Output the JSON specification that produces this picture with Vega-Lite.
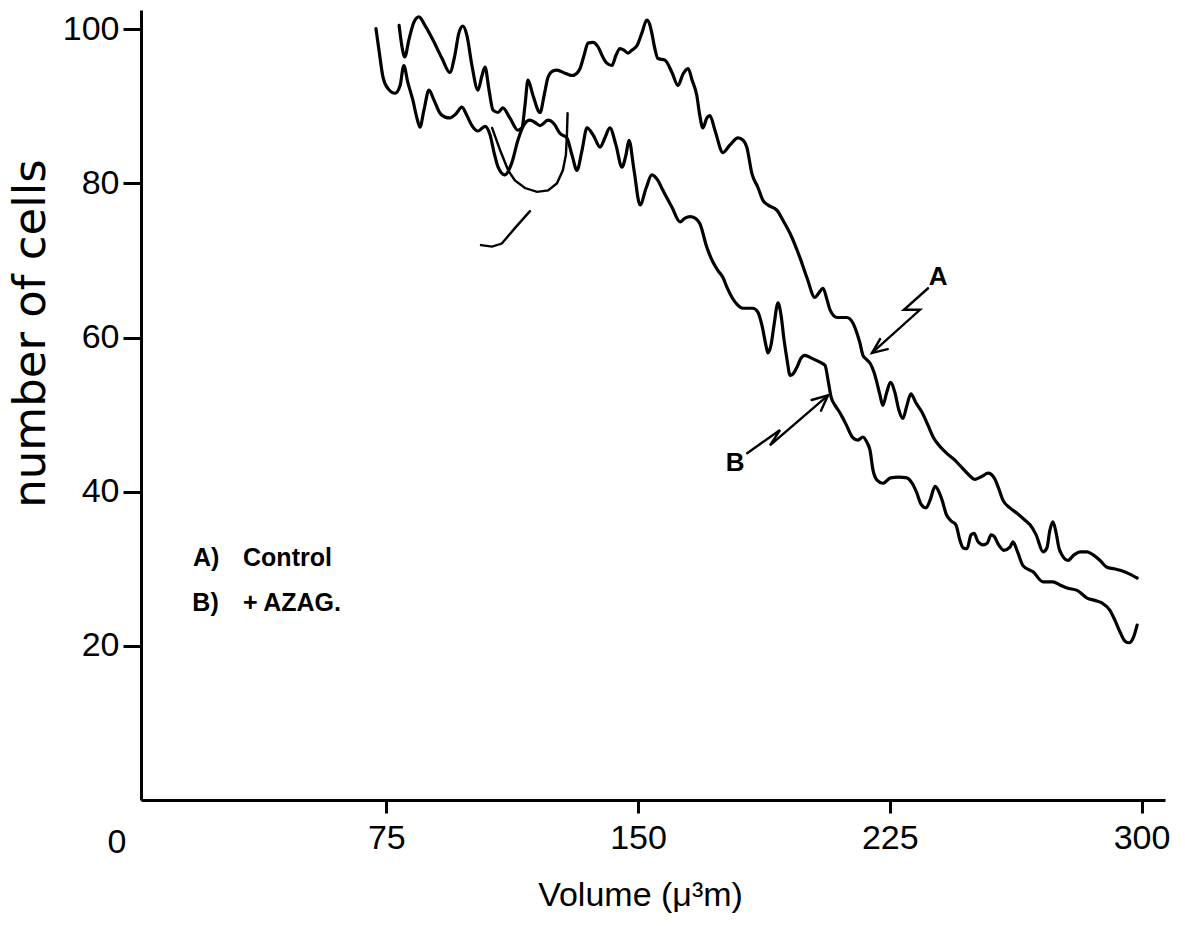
{
  "$schema": "https://vega.github.io/schema/vega-lite/v6.json",
  "autosize": {"type": "none"},
  "padding": {"left": 141, "top": 10, "right": 20, "bottom": 126},
  "width": 1024,
  "height": 790,
  "background": "white",
  "config": {
    "view": {"stroke": null},
    "font": "Liberation Sans",
    "axis": {
      "grid": false,
      "domainColor": "black",
      "domainWidth": 3,
      "tickColor": "black",
      "tickWidth": 3,
      "labelColor": "black",
      "titleColor": "black",
      "labelFont": "Liberation Sans",
      "titleFont": "Liberation Sans",
      "titleFontWeight": "normal"
    }
  },
  "datasets": {
    "curves": [
      {"s":"A","v":78.8,"n":100.5},{"s":"A","v":79.6,"n":97.9},{"s":"A","v":80.5,"n":96.4},{"s":"A","v":81.7,"n":98.6},{"s":"A","v":83.2,"n":100.9},{"s":"A","v":84.7,"n":101.6},{"s":"A","v":86.5,"n":100.5},{"s":"A","v":88.9,"n":98.6},{"s":"A","v":91.6,"n":96.2},{"s":"A","v":93.9,"n":94.4},{"s":"A","v":95.4,"n":96.6},{"s":"A","v":96.6,"n":99.5},{"s":"A","v":97.8,"n":100.4},{"s":"A","v":99.0,"n":99.2},{"s":"A","v":100.5,"n":95.3},{"s":"A","v":102.3,"n":92.1},{"s":"A","v":103.5,"n":94.0},{"s":"A","v":104.4,"n":95.1},{"s":"A","v":105.6,"n":92.1},{"s":"A","v":106.8,"n":89.5},{"s":"A","v":108.3,"n":89.2},{"s":"A","v":109.7,"n":89.8},{"s":"A","v":111.8,"n":88.5},{"s":"A","v":114.2,"n":86.9},{"s":"A","v":115.4,"n":87.2},{"s":"A","v":116.3,"n":90.1},{"s":"A","v":117.2,"n":93.4},{"s":"A","v":118.7,"n":91.4},{"s":"A","v":120.8,"n":89.2},{"s":"A","v":122.0,"n":91.4},{"s":"A","v":123.2,"n":93.8},{"s":"A","v":124.6,"n":94.6},{"s":"A","v":125.8,"n":94.7},{"s":"A","v":128.2,"n":94.3},{"s":"A","v":130.3,"n":94.0},{"s":"A","v":131.8,"n":94.3},{"s":"A","v":132.7,"n":94.9},{"s":"A","v":133.9,"n":96.6},{"s":"A","v":135.1,"n":98.2},{"s":"A","v":136.6,"n":98.3},{"s":"A","v":138.1,"n":97.7},{"s":"A","v":139.5,"n":96.4},{"s":"A","v":140.7,"n":95.6},{"s":"A","v":142.2,"n":95.3},{"s":"A","v":143.4,"n":96.6},{"s":"A","v":144.6,"n":97.5},{"s":"A","v":145.8,"n":97.3},{"s":"A","v":147.0,"n":96.9},{"s":"A","v":148.2,"n":97.3},{"s":"A","v":149.7,"n":97.9},{"s":"A","v":151.2,"n":99.6},{"s":"A","v":152.6,"n":101.2},{"s":"A","v":153.5,"n":100.6},{"s":"A","v":154.1,"n":99.5},{"s":"A","v":155.0,"n":97.5},{"s":"A","v":155.9,"n":96.2},{"s":"A","v":158.0,"n":96.0},{"s":"A","v":160.1,"n":94.4},{"s":"A","v":161.9,"n":92.7},{"s":"A","v":163.4,"n":94.2},{"s":"A","v":164.9,"n":94.9},{"s":"A","v":166.1,"n":93.4},{"s":"A","v":167.5,"n":91.4},{"s":"A","v":168.4,"n":88.8},{"s":"A","v":169.3,"n":87.2},{"s":"A","v":170.5,"n":88.5},{"s":"A","v":171.4,"n":88.8},{"s":"A","v":172.9,"n":86.9},{"s":"A","v":175.3,"n":84.0},{"s":"A","v":177.4,"n":85.0},{"s":"A","v":179.8,"n":85.9},{"s":"A","v":181.3,"n":85.6},{"s":"A","v":182.4,"n":84.7},{"s":"A","v":183.9,"n":81.3},{"s":"A","v":185.7,"n":79.5},{"s":"A","v":187.2,"n":77.8},{"s":"A","v":188.7,"n":77.2},{"s":"A","v":191.4,"n":76.5},{"s":"A","v":193.2,"n":75.2},{"s":"A","v":195.3,"n":73.5},{"s":"A","v":198.2,"n":70.4},{"s":"A","v":200.3,"n":67.8},{"s":"A","v":202.7,"n":65.2},{"s":"A","v":203.9,"n":65.8},{"s":"A","v":205.1,"n":66.4},{"s":"A","v":206.3,"n":64.9},{"s":"A","v":207.2,"n":63.6},{"s":"A","v":209.3,"n":62.6},{"s":"A","v":212.2,"n":62.6},{"s":"A","v":214.0,"n":61.9},{"s":"A","v":215.2,"n":60.6},{"s":"A","v":216.1,"n":59.3},{"s":"A","v":217.0,"n":57.7},{"s":"A","v":218.2,"n":57.1},{"s":"A","v":219.1,"n":56.7},{"s":"A","v":220.3,"n":55.5},{"s":"A","v":221.2,"n":54.1},{"s":"A","v":222.1,"n":52.5},{"s":"A","v":222.9,"n":51.2},{"s":"A","v":224.1,"n":52.9},{"s":"A","v":225.2,"n":54.2},{"s":"A","v":226.5,"n":52.9},{"s":"A","v":227.7,"n":50.6},{"s":"A","v":228.9,"n":49.5},{"s":"A","v":230.1,"n":51.2},{"s":"A","v":231.3,"n":52.7},{"s":"A","v":232.7,"n":51.6},{"s":"A","v":234.6,"n":50.3},{"s":"A","v":236.4,"n":48.6},{"s":"A","v":237.9,"n":47.1},{"s":"A","v":239.9,"n":45.9},{"s":"A","v":241.9,"n":45.0},{"s":"A","v":244.4,"n":44.1},{"s":"A","v":245.9,"n":43.4},{"s":"A","v":248.3,"n":42.3},{"s":"A","v":250.4,"n":41.6},{"s":"A","v":252.5,"n":42.0},{"s":"A","v":254.3,"n":42.4},{"s":"A","v":256.1,"n":41.8},{"s":"A","v":257.3,"n":40.6},{"s":"A","v":258.7,"n":38.9},{"s":"A","v":260.8,"n":37.9},{"s":"A","v":262.9,"n":37.2},{"s":"A","v":265.3,"n":36.3},{"s":"A","v":266.8,"n":35.7},{"s":"A","v":268.6,"n":34.4},{"s":"A","v":270.7,"n":32.2},{"s":"A","v":271.8,"n":32.7},{"s":"A","v":272.7,"n":35.0},{"s":"A","v":273.6,"n":36.1},{"s":"A","v":274.5,"n":34.8},{"s":"A","v":275.4,"n":32.7},{"s":"A","v":276.3,"n":31.8},{"s":"A","v":278.1,"n":31.1},{"s":"A","v":279.9,"n":31.8},{"s":"A","v":281.7,"n":32.2},{"s":"A","v":283.8,"n":32.2},{"s":"A","v":285.6,"n":31.8},{"s":"A","v":287.6,"n":31.1},{"s":"A","v":289.7,"n":30.2},{"s":"A","v":291.8,"n":30.0},{"s":"A","v":293.6,"n":29.8},{"s":"A","v":296.0,"n":29.4},{"s":"A","v":298.7,"n":28.8},
      {"s":"B","v":71.9,"n":100.1},{"s":"B","v":72.8,"n":97.3},{"s":"B","v":74.0,"n":93.8},{"s":"B","v":75.5,"n":92.3},{"s":"B","v":77.6,"n":91.7},{"s":"B","v":79.1,"n":92.7},{"s":"B","v":80.2,"n":95.3},{"s":"B","v":81.4,"n":93.1},{"s":"B","v":82.9,"n":90.8},{"s":"B","v":84.1,"n":88.5},{"s":"B","v":85.0,"n":87.3},{"s":"B","v":86.2,"n":89.5},{"s":"B","v":87.7,"n":92.1},{"s":"B","v":89.2,"n":90.8},{"s":"B","v":91.0,"n":89.1},{"s":"B","v":92.5,"n":88.6},{"s":"B","v":93.9,"n":88.5},{"s":"B","v":95.7,"n":89.0},{"s":"B","v":97.5,"n":89.9},{"s":"B","v":99.0,"n":88.8},{"s":"B","v":100.5,"n":87.5},{"s":"B","v":102.3,"n":86.8},{"s":"B","v":104.4,"n":87.4},{"s":"B","v":105.9,"n":86.3},{"s":"B","v":107.1,"n":84.0},{"s":"B","v":108.3,"n":82.1},{"s":"B","v":110.3,"n":81.1},{"s":"B","v":112.4,"n":82.7},{"s":"B","v":114.2,"n":85.6},{"s":"B","v":116.3,"n":87.8},{"s":"B","v":117.8,"n":88.2},{"s":"B","v":119.3,"n":87.9},{"s":"B","v":120.8,"n":87.5},{"s":"B","v":123.2,"n":88.2},{"s":"B","v":125.0,"n":87.7},{"s":"B","v":126.7,"n":86.5},{"s":"B","v":128.8,"n":85.9},{"s":"B","v":130.3,"n":83.7},{"s":"B","v":131.8,"n":81.7},{"s":"B","v":133.3,"n":84.3},{"s":"B","v":134.8,"n":87.2},{"s":"B","v":136.6,"n":86.3},{"s":"B","v":138.7,"n":84.7},{"s":"B","v":140.1,"n":85.9},{"s":"B","v":141.6,"n":87.2},{"s":"B","v":143.4,"n":85.0},{"s":"B","v":145.2,"n":82.1},{"s":"B","v":146.4,"n":83.7},{"s":"B","v":147.3,"n":85.6},{"s":"B","v":148.8,"n":81.7},{"s":"B","v":150.6,"n":77.2},{"s":"B","v":152.4,"n":79.4},{"s":"B","v":154.1,"n":81.1},{"s":"B","v":155.9,"n":80.4},{"s":"B","v":157.4,"n":79.1},{"s":"B","v":160.1,"n":76.9},{"s":"B","v":162.5,"n":75.0},{"s":"B","v":164.0,"n":75.5},{"s":"B","v":165.5,"n":75.7},{"s":"B","v":167.0,"n":75.5},{"s":"B","v":168.4,"n":74.8},{"s":"B","v":170.5,"n":71.7},{"s":"B","v":172.3,"n":69.8},{"s":"B","v":173.8,"n":68.7},{"s":"B","v":175.3,"n":67.8},{"s":"B","v":176.5,"n":66.5},{"s":"B","v":178.0,"n":65.2},{"s":"B","v":179.5,"n":64.3},{"s":"B","v":181.3,"n":63.8},{"s":"B","v":184.2,"n":63.8},{"s":"B","v":185.7,"n":63.3},{"s":"B","v":186.9,"n":61.6},{"s":"B","v":188.1,"n":59.0},{"s":"B","v":188.7,"n":58.0},{"s":"B","v":189.6,"n":59.0},{"s":"B","v":190.5,"n":61.6},{"s":"B","v":191.7,"n":64.5},{"s":"B","v":192.6,"n":62.9},{"s":"B","v":193.5,"n":59.7},{"s":"B","v":194.4,"n":57.1},{"s":"B","v":195.3,"n":55.1},{"s":"B","v":196.2,"n":55.3},{"s":"B","v":197.4,"n":56.2},{"s":"B","v":198.5,"n":57.3},{"s":"B","v":199.7,"n":57.7},{"s":"B","v":201.8,"n":57.3},{"s":"B","v":204.2,"n":56.8},{"s":"B","v":205.7,"n":56.4},{"s":"B","v":206.6,"n":54.5},{"s":"B","v":207.5,"n":52.3},{"s":"B","v":208.7,"n":51.2},{"s":"B","v":210.2,"n":50.2},{"s":"B","v":211.9,"n":48.8},{"s":"B","v":214.0,"n":47.0},{"s":"B","v":215.5,"n":46.7},{"s":"B","v":217.0,"n":47.1},{"s":"B","v":218.2,"n":46.4},{"s":"B","v":219.1,"n":45.4},{"s":"B","v":220.0,"n":42.8},{"s":"B","v":221.2,"n":41.5},{"s":"B","v":222.9,"n":41.1},{"s":"B","v":225.2,"n":41.8},{"s":"B","v":227.7,"n":41.9},{"s":"B","v":230.1,"n":41.8},{"s":"B","v":231.8,"n":41.0},{"s":"B","v":233.0,"n":39.9},{"s":"B","v":234.3,"n":38.4},{"s":"B","v":235.8,"n":37.9},{"s":"B","v":237.0,"n":38.9},{"s":"B","v":238.5,"n":40.7},{"s":"B","v":239.4,"n":40.2},{"s":"B","v":240.6,"n":38.9},{"s":"B","v":241.8,"n":37.1},{"s":"B","v":243.3,"n":36.2},{"s":"B","v":244.7,"n":35.7},{"s":"B","v":245.9,"n":33.7},{"s":"B","v":246.9,"n":32.7},{"s":"B","v":248.0,"n":32.6},{"s":"B","v":249.2,"n":34.4},{"s":"B","v":250.1,"n":34.6},{"s":"B","v":251.3,"n":33.5},{"s":"B","v":252.8,"n":33.1},{"s":"B","v":254.0,"n":33.3},{"s":"B","v":255.2,"n":34.4},{"s":"B","v":256.1,"n":34.2},{"s":"B","v":257.3,"n":33.2},{"s":"B","v":259.0,"n":32.4},{"s":"B","v":260.8,"n":32.8},{"s":"B","v":261.7,"n":33.5},{"s":"B","v":262.9,"n":32.4},{"s":"B","v":264.7,"n":30.4},{"s":"B","v":267.7,"n":29.6},{"s":"B","v":270.7,"n":28.3},{"s":"B","v":273.6,"n":28.3},{"s":"B","v":275.7,"n":27.9},{"s":"B","v":277.8,"n":27.5},{"s":"B","v":280.8,"n":27.2},{"s":"B","v":283.8,"n":26.2},{"s":"B","v":286.1,"n":25.9},{"s":"B","v":288.1,"n":25.6},{"s":"B","v":290.6,"n":24.6},{"s":"B","v":292.1,"n":23.3},{"s":"B","v":293.6,"n":21.8},{"s":"B","v":295.1,"n":20.6},{"s":"B","v":296.3,"n":20.4},{"s":"B","v":297.5,"n":21.0},{"s":"B","v":298.7,"n":22.7}
    ],
    "strokes": [
      {"s":"loop","v":106.5,"n":87.2},{"s":"loop","v":108.9,"n":84.3},{"s":"loop","v":111.3,"n":81.7},{"s":"loop","v":113.3,"n":80.4},{"s":"loop","v":116.3,"n":79.4},{"s":"loop","v":119.9,"n":78.9},{"s":"loop","v":123.2,"n":79.1},{"s":"loop","v":125.8,"n":80.0},{"s":"loop","v":127.6,"n":81.7},{"s":"loop","v":128.5,"n":83.7},{"s":"loop","v":128.8,"n":86.3},{"s":"loop","v":129.0,"n":89.1},
      {"s":"tail","v":103.2,"n":72.0},{"s":"tail","v":106.5,"n":71.8},{"s":"tail","v":109.4,"n":72.2},{"s":"tail","v":113.3,"n":74.2},{"s":"tail","v":117.8,"n":76.4},
      {"s":"arrowA","v":236.4,"n":66.4},{"s":"arrowA","v":229.2,"n":63.6},{"s":"arrowA","v":234.0,"n":63.6},{"s":"arrowA","v":219.7,"n":58.0},
      {"s":"headA","v":222.1,"n":59.8},{"s":"headA","v":219.7,"n":58.0},{"s":"headA","v":224.4,"n":58.5},
      {"s":"arrowB","v":182.5,"n":45.0},{"s":"arrowB","v":192.3,"n":48.0},{"s":"arrowB","v":189.3,"n":46.0},{"s":"arrowB","v":206.6,"n":52.5},
      {"s":"headB","v":201.7,"n":51.9},{"s":"headB","v":206.6,"n":52.5},{"s":"headB","v":204.5,"n":50.5}
    ],
    "labels": [
      {"t":"A","v":239.4,"n":67.8},
      {"t":"B","v":178.9,"n":43.7}
    ],
    "key": [
      {"t":"A)","v":17.4,"n":31.4},
      {"t":"Control","v":32.3,"n":31.4},
      {"t":"B)","v":17.2,"n":25.6},
      {"t":"+","v":32.3,"n":25.6},
      {"t":"AZAG.","v":38.3,"n":25.6}
    ],
    "origin": [
      {"t":"0","v":-5.3,"n":-5.6}
    ]
  },
  "layer": [
    {
      "data": {"name": "curves"},
      "mark": {"type": "line", "color": "black", "strokeWidth": 3.2, "strokeCap": "round", "strokeJoin": "round", "interpolate": "monotone"},
      "encoding": {
        "x": {
          "field": "v", "type": "quantitative",
          "scale": {"domain": [1.9, 307], "nice": false, "zero": false},
          "axis": {
            "values": [75, 150, 225, 300],
            "tickSize": 13,
            "labelFontSize": 34,
            "labelPadding": 8,
            "title": "Volume (μ³m)",
            "titleFontSize": 34,
            "titleX": 499,
            "titleY": 95,
            "titleAlign": "center",
            "titleBaseline": "middle"
          }
        },
        "y": {
          "field": "n", "type": "quantitative",
          "scale": {"domain": [0, 102.5], "nice": false},
          "axis": {
            "values": [20, 40, 60, 80, 100],
            "tickSize": 18,
            "labelFontSize": 34,
            "labelPadding": 4,
            "title": "number of cells",
            "titleFont": "DejaVu Sans",
            "titleFontSize": 45,
            "titleAngle": 270,
            "titleX": -111,
            "titleY": 323,
            "titleAlign": "center",
            "titleBaseline": "middle"
          }
        },
        "detail": {"field": "s"},
        "order": {"value": null}
      }
    },
    {
      "data": {"name": "strokes"},
      "mark": {"type": "line", "color": "black", "strokeWidth": 2.4, "strokeCap": "round", "strokeJoin": "miter"},
      "encoding": {
        "x": {"field": "v", "type": "quantitative"},
        "y": {"field": "n", "type": "quantitative"},
        "detail": {"field": "s"},
        "order": {"value": null}
      }
    },
    {
      "data": {"name": "labels"},
      "mark": {"type": "text", "fontSize": 26, "fontWeight": "bold", "color": "black", "align": "center", "baseline": "middle"},
      "encoding": {
        "x": {"field": "v", "type": "quantitative"},
        "y": {"field": "n", "type": "quantitative"},
        "text": {"field": "t"}
      }
    },
    {
      "data": {"name": "key"},
      "mark": {"type": "text", "fontSize": 25, "fontWeight": "bold", "color": "black", "align": "left", "baseline": "middle"},
      "encoding": {
        "x": {"field": "v", "type": "quantitative"},
        "y": {"field": "n", "type": "quantitative"},
        "text": {"field": "t"}
      }
    },
    {
      "data": {"name": "origin"},
      "mark": {"type": "text", "fontSize": 34, "color": "black", "align": "center", "baseline": "middle"},
      "encoding": {
        "x": {"field": "v", "type": "quantitative"},
        "y": {"field": "n", "type": "quantitative"},
        "text": {"field": "t"}
      }
    }
  ]
}
